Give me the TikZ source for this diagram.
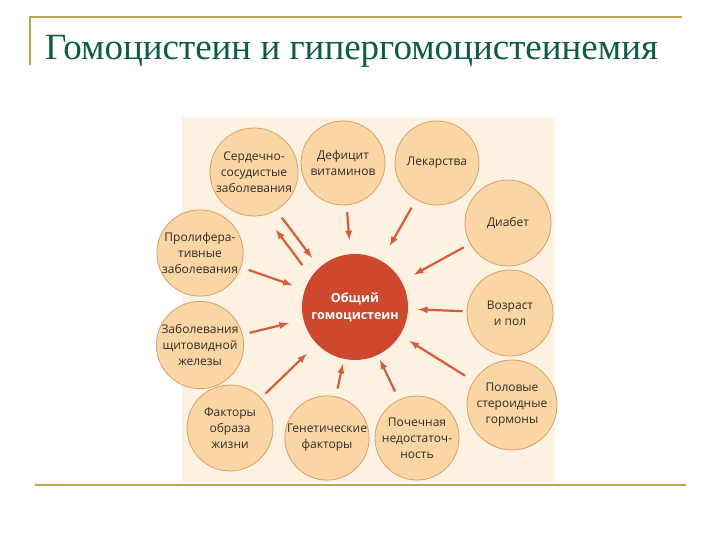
\documentclass[tikz,border=0pt]{standalone}
\usepackage{fontspec}
\setmainfont{Liberation Serif}
\newfontfamily\circfont{Open Sans}
\usepackage{tikz}
\usetikzlibrary{arrows,shapes,positioning}
\definecolor{linegold}{RGB}{188,164,82}
\definecolor{titlegreen}{RGB}{14,92,72}
\definecolor{bgcream}{RGB}{253,242,226}
\definecolor{circfill}{RGB}{250,214,165}
\definecolor{circedge}{RGB}{214,160,105}
\definecolor{hcyred}{RGB}{205,72,44}
\definecolor{arrred}{RGB}{214,92,58}
\definecolor{txtgray}{RGB}{50,42,42}
\newcommand{\zab}{заболевания}

\begin{document}
\begin{tikzpicture}[x=1pt,y=-1pt,
    factor/.style={circle,draw=circedge,line width=0.8pt,fill=circfill,minimum size=86pt,inner sep=0pt,
      align=center,text=txtgray,font=\circfont\fontsize{12}{16}\selectfont},
    arr/.style={-latex,draw=arrred,line width=2.2pt,shorten <=7pt,shorten >=11pt}]
  \useasboundingbox (0,0) rectangle (720,540);

  % slide frame and title
  \draw[linegold,line width=1.5pt] (30,65) -- (30,17) -- (682,17);
  \draw[linegold,line width=2.5pt] (35,485) -- (686,485);
  \node[anchor=base west,inner sep=0pt,text=titlegreen,font=\fontsize{37}{40}\selectfont] (title) at (45,60)
    {Гомоцистеин и гипергомоцистеинемия};

  % the scheme
  \fill[bgcream] (182,117) rectangle (555,482);
  \node[circle,fill=hcyred,minimum size=106pt,inner sep=0pt,align=center,text=white,
    font=\circfont\bfseries\fontsize{12.5}{17}\selectfont] (hcy) at (355,307) {Общий\\гомоцистеин};

  \node[factor,minimum size=88pt] (cardio) at (254,172) {Сердечно-\\сосудистые\\\zab};
  \node[factor,minimum size=84pt] (vitam) at (343,163) {Дефицит\\витаминов};
  \node[factor,minimum size=84pt] (drugs) at (437,163) {Лекарства};
  \node[factor] (diab) at (508,223) {Диабет};
  \node[factor] (age) at (510,313) {Возраст\\и пол};
  \node[factor,minimum size=90pt] (steroid) at (512,405) {Половые\\стероидные\\гормоны};
  \node[factor,minimum size=84pt] (renal) at (417,438) {Почечная\\недостаточ-\\ность};
  \node[factor,minimum size=84pt] (genet) at (327,438) {Генетические\\факторы};
  \node[factor] (life) at (230,428) {Факторы\\образа\\жизни};
  \node[factor] (thyr) at (200,345) {Заболевания\\щитовидной\\железы};
  \node[factor] (prolif) at (200,253) {Пролифера-\\тивные\\\zab};

  % arrows to the centre
  \draw[arr,transform canvas={shift={(-4,3)}},shorten <=9pt,shorten >=12pt] (cardio) -- (hcy);
  \draw[arr,transform canvas={shift={(-13.6,10.2)}},shorten <=12pt,shorten >=15pt] (hcy) -- (cardio);
  \draw[arr,shorten >=14pt] (vitam) -- (hcy);
  \draw[arr,shorten <=9pt,shorten >=17pt] (drugs) -- (hcy);
  \draw[arr,shorten >=14pt] (diab) -- (hcy);
  \draw[arr,shorten <=4pt,shorten >=10pt] (age) -- (hcy);
  \draw[arr,shorten <=10pt] (steroid) -- (hcy);
  \draw[arr,shorten <=9pt,shorten >=5pt] (renal) -- (hcy);
  \draw[arr,shorten <=8pt,shorten >=5pt] (genet) -- (hcy);
  \draw[arr,shorten <=6pt,shorten >=14pt] (life) -- (hcy);
  \draw[arr,shorten >=15pt] (thyr) -- (hcy);
  \draw[arr,shorten <=8pt,shorten >=13pt] (prolif) -- (hcy);
\end{tikzpicture}
\end{document}
